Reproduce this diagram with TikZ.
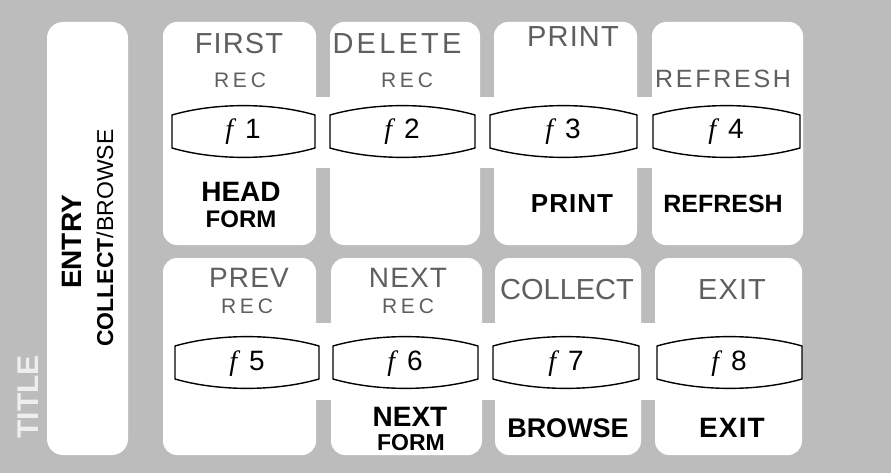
\documentclass[tikz,border=0pt]{standalone}
\usepackage{fontspec}
\setmainfont{Liberation Sans}
\newfontfamily\lab{Liberation Sans}
\newfontfamily\labsp[LetterSpace=18]{Liberation Sans}
\newfontfamily\labmd[LetterSpace=11]{Liberation Sans}
\newfontfamily\labsm[LetterSpace=4]{Liberation Sans}
\newfontfamily\fser{Liberation Serif}
\definecolor{bggray}{RGB}{188,188,188}
\definecolor{inkgray}{RGB}{95,95,95}
\tikzset{
  panel/.style={fill=white, draw=none, rounded corners=14pt},
  bridge/.style={fill=white, draw=none},
  keycap/.style={draw=black, line width=1.4pt, fill=white, line join=round},
  toplab/.style={inner sep=0pt, text=inkgray, font=\labsm\fontsize{29}{29}\selectfont},
  reclab/.style={inner sep=0pt, text=inkgray, font=\labsp\fontsize{21}{21}\selectfont},
  boldlab/.style={inner sep=0pt, text=black, font=\lab\bfseries\fontsize{27}{27}\selectfont},
  formlab/.style={inner sep=0pt, text=black, font=\lab\bfseries\fontsize{24}{24}\selectfont},
  keylab/.style={inner sep=0pt, text=black, font=\lab\fontsize{28}{28}\selectfont},
}
\newcommand{\keyshape}[3]{%
  \draw[keycap] (#1,#3) .. controls ({#1+0.3*(#2-#1)},{#3-12.5}) and ({#2-0.3*(#2-#1)},{#3-12.5}) .. (#2,#3)
    -- (#2,{#3+33}) .. controls ({#2-0.3*(#2-#1)},{#3+33+12.5}) and ({#1+0.3*(#2-#1)},{#3+33+12.5}) .. (#1,{#3+33}) -- cycle;}
\newcommand{\fk}[1]{{\fser\itshape f}\hspace{12pt}#1}
\begin{document}
\begin{tikzpicture}[x=1pt, y=-1pt]
\useasboundingbox (0,0) rectangle (891,473);
\fill[bggray] (0,0) rectangle (891,473);
% left title panel
\fill[panel, rounded corners=16pt] (47,22) rectangle (128,455);
% top row panels
\fill[panel] (163,22) rectangle (316,245);
\fill[panel] (330,22) rectangle (480,245);
\fill[panel] (494,22) rectangle (637,245);
\fill[panel] (652,22) rectangle (803,245);
\fill[bridge] (170,97) rectangle (798,168);
% bottom row panels
\fill[panel] (163,258) rectangle (316,455);
\fill[panel] (331,258) rectangle (482,455);
\fill[panel] (495,258) rectangle (641,455);
\fill[panel] (655,258) rectangle (802,455);
\fill[bridge] (170,323) rectangle (798,400);
% function keys
\keyshape{172}{315}{115}
\keyshape{330}{475}{115}
\keyshape{490}{637}{115}
\keyshape{653}{800}{115}
\keyshape{175}{319}{346}
\keyshape{333}{478}{346}
\keyshape{493}{639}{346}
\keyshape{657}{802}{346}
\node[keylab] (k1) at (243,132) {\fk{1}};
\node[keylab] (k2) at (402,132) {\fk{2}};
\node[keylab] (k3) at (563,132) {\fk{3}};
\node[keylab] (k4) at (726,132) {\fk{4}};
\node[keylab] (k5) at (247,364) {\fk{5}};
\node[keylab] (k6) at (405,364) {\fk{6}};
\node[keylab] (k7) at (566,364) {\fk{7}};
\node[keylab] (k8) at (729,364) {\fk{8}};
% top row labels
\node[toplab] (t1) at (239,44) {FIRST};
\node[reclab] (r1) at (240,80) {REC};
\node[toplab, font=\labmd\fontsize{29}{29}\selectfont] (t2) at (397,44) {DELETE};
\node[reclab] (r2) at (407,80) {REC};
\node[toplab] (t3) at (573,37) {PRINT};
\node[reclab, font=\labmd\fontsize{25}{25}\selectfont] (t4) at (723,79) {REFRESH};
\node[boldlab, font=\lab\bfseries\fontsize{28}{28}\selectfont] (b1) at (241,192) {HEAD};
\node[formlab] (b1f) at (241,219) {FORM};
\node[boldlab, font=\labsm\bfseries\fontsize{26}{26}\selectfont] (b3) at (572,204) {PRINT};
\node[boldlab, font=\lab\bfseries\fontsize{25}{25}\selectfont] (b4) at (723,204) {REFRESH};
% bottom row labels
\node[toplab, font=\labsm\fontsize{28}{28}\selectfont] (t5) at (249,278) {PREV};
\node[reclab] (r5) at (247,306) {REC};
\node[toplab, font=\labsm\fontsize{28}{28}\selectfont] (t6) at (408,278) {NEXT};
\node[reclab] (r6) at (408,306) {REC};
\node[toplab, font=\lab\fontsize{29}{29}\selectfont] (t7) at (567,290) {COLLECT};
\node[toplab, font=\labsm\fontsize{29}{29}\selectfont] (t8) at (732,290) {EXIT};
\node[boldlab, font=\lab\bfseries\fontsize{28}{28}\selectfont] (b6) at (410,417) {NEXT};
\node[formlab, font=\lab\bfseries\fontsize{23}{23}\selectfont] (b6f) at (411,443) {FORM};
\node[boldlab] (b7) at (568,428) {BROWSE};
\node[boldlab, font=\labsm\bfseries\fontsize{28}{28}\selectfont] (b8) at (732,428) {EXIT};
% left panel labels
\node[rotate=90, inner sep=0pt, font=\lab\bfseries\fontsize{28}{28}\selectfont] (entry) at (72,242) {ENTRY};
\node[rotate=90, inner sep=0pt, font=\lab\fontsize{23}{23}\selectfont] (cb) at (105,238) {\textbf{COLLECT}/BROWSE};
\node[rotate=90, inner sep=0pt, text=white!75!bggray, font=\lab\bfseries\fontsize{30}{30}\selectfont] (title) at (28,397) {TITLE};
\end{tikzpicture}
\end{document}
